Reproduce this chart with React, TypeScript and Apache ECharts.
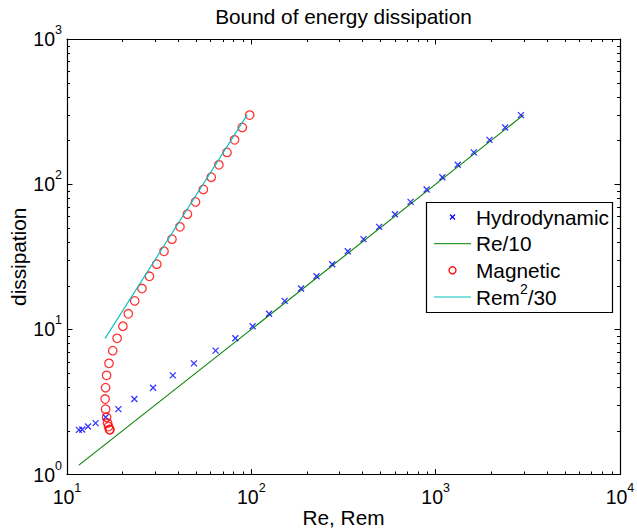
import React, { useEffect, useRef } from 'react';
import * as echarts from 'echarts';

// ---- data ----
const hydroRe = [11.6, 12.1, 13.0, 14.3, 16.2, 19.0, 23.2, 29.3, 37.5, 48.8, 64.0, 81.9, 101.6, 124.8, 151.6, 186, 225.6, 274.6, 333.6, 406, 494, 601, 731, 893, 1087, 1318, 1610, 1959, 2382, 2900];
const hydroDiss = [2.03, 2.04, 2.14, 2.26, 2.48, 2.82, 3.31, 3.96, 4.82, 5.83, 7.13, 8.67, 10.5, 12.8, 15.7, 19.1, 23.2, 28.1, 34.5, 41.8, 50.8, 62.1, 75.5, 91.9, 111.7, 135.9, 165.5, 202, 246, 299];
const magRem = [17.1, 17.0, 16.8, 16.6, 16.4, 16.2, 16.1, 16.2, 16.4, 16.9, 17.7, 18.7, 20.1, 21.5, 23.3, 25.5, 28.0, 30.7, 33.6, 37.1, 41.0, 45.0, 49.8, 54.9, 60.6, 66.7, 73.8, 81.1, 89.3, 98.0];
const magDiss = [2.03, 2.04, 2.14, 2.26, 2.48, 2.82, 3.31, 3.96, 4.82, 5.83, 7.13, 8.67, 10.5, 12.8, 15.7, 19.1, 23.2, 28.1, 34.5, 41.8, 50.8, 62.1, 75.5, 91.9, 111.7, 135.9, 165.5, 202, 246, 299];
const reLineX = [11.6, 3000];
const reLineY = [1.16, 300];
const remLineX = [16.1, 94.9];
const remLineY = [8.67, 300];
const xMinorTicks = [20, 30, 40, 50, 60, 70, 80, 90, 200, 300, 400, 500, 600, 700, 800, 900, 2000, 3000, 4000, 5000, 6000, 7000, 8000, 9000];
const yMinorTicks = [2, 3, 4, 5, 6, 7, 8, 9, 20, 30, 40, 50, 60, 70, 80, 90, 200, 300, 400, 500, 600, 700, 800, 900];
const seriesNames = ['Hydrodynamic', 'Re/10', 'Magnetic', 'Rem^2/30'];
const titleText = 'Bound of energy dissipation';
const xName = 'Re, Rem';
const yName = 'dissipation';

const FONT = '"Liberation Sans", Arial, Helvetica, sans-serif';
const FS = 20.8;
const TICK_FS = 19.5;
const MAJOR = 5.5;
const MINOR = 3;
const BLUE = '#0000ff';
const GREEN = '#008000';
const RED = '#ff0000';
const CYAN = '#00bfbf';
const X_PATH = 'path://M0,0L10,10M10,0L0,10';
const MARK_W = 1.3;

const zip = (a: number[], b: number[]) => a.map((v, i) => [v, b[i]]);

const tickRich = {
  b: { fontSize: TICK_FS, fontFamily: FONT, color: '#000', lineHeight: 24 },
  s: { fontSize: 12.5, fontFamily: FONT, color: '#000', lineHeight: 24, padding: [0, 0, 18, 0] },
};
const tickFmt = (v: number) => `{b|10}{s|${Math.round(Math.log10(v))}}`;

const legendRich = {
  b: { fontSize: FS, fontFamily: FONT, color: '#000', lineHeight: 22 },
  s: { fontSize: 14, fontFamily: FONT, color: '#000', lineHeight: 22, padding: [0, 0, 16, 0] },
};

function legendGraphic() {
  const x0 = 426, y0 = 202, w = 186, h = 110;
  const rows = [217, 243.7, 270.3, 297];
  const sx1 = 434, sx2 = 471, cx = 452.5, tx = 476;
  const children: any[] = [
    { type: 'rect', shape: { x: x0 + 0.5, y: y0 + 0.5, width: w, height: h }, style: { fill: '#fff', stroke: '#000', lineWidth: 1.2 } },
    // Hydrodynamic marker
    { type: 'line', shape: { x1: cx - 2.5, y1: rows[0] - 2.5, x2: cx + 2.5, y2: rows[0] + 2.5 }, style: { stroke: BLUE, lineWidth: MARK_W } },
    { type: 'line', shape: { x1: cx + 2.5, y1: rows[0] - 2.5, x2: cx - 2.5, y2: rows[0] + 2.5 }, style: { stroke: BLUE, lineWidth: MARK_W } },
    // Re/10 line
    { type: 'line', shape: { x1: sx1, y1: rows[1], x2: sx2, y2: rows[1] }, style: { stroke: GREEN, lineWidth: 1 } },
    // Magnetic marker
    { type: 'circle', shape: { cx, cy: rows[2], r: 3.5 }, style: { fill: 'none', stroke: RED, lineWidth: MARK_W } },
    // Rem^2/30 line
    { type: 'line', shape: { x1: sx1, y1: rows[3], x2: sx2, y2: rows[3] }, style: { stroke: CYAN, lineWidth: 1 } },
  ];
  const labels = [
    `{b|${seriesNames[0]}}`,
    `{b|${seriesNames[1]}}`,
    `{b|${seriesNames[2]}}`,
    `{b|Rem}{s|2}{b|/30}`,
  ];
  labels.forEach((t, i) => {
    children.push({
      type: 'text', x: tx, y: rows[i],
      style: { text: t, rich: legendRich, verticalAlign: 'middle', align: 'left', fill: '#000', fontSize: FS, fontFamily: FONT },
    });
  });
  return { type: 'group', z: 100, children };
}

function minorTickSeries(vals: number[], dir: 'x' | 'y') {
  return {
    type: 'custom',
    silent: true,
    clip: false,
    z: 10,
    data: vals.map((v) => (dir === 'x' ? [v, 10] : [100, v])),
    renderItem: (params: any, api: any) => {
      const cs = params.coordSys;
      const style = { stroke: '#000', lineWidth: 1 };
      if (dir === 'x') {
        const x = Math.round(api.coord([api.value(0), 10])[0]) + 0.5;
        const yb = cs.y + cs.height, yt = cs.y;
        return {
          type: 'group', children: [
            { type: 'line', shape: { x1: x, y1: yb, x2: x, y2: yb - MINOR }, style },
            { type: 'line', shape: { x1: x, y1: yt, x2: x, y2: yt + MINOR }, style },
          ],
        };
      }
      const y = Math.round(api.coord([100, api.value(1)])[1]) + 0.5;
      const xl = cs.x, xr = cs.x + cs.width;
      return {
        type: 'group', children: [
          { type: 'line', shape: { x1: xl, y1: y, x2: xl + MINOR, y2: y }, style },
          { type: 'line', shape: { x1: xr, y1: y, x2: xr - MINOR, y2: y }, style },
        ],
      };
    },
  };
}

const axisCommon = {
  type: 'log' as const,
  logBase: 10,
  splitLine: { show: false },
  minorTick: { show: false },
  axisLine: { show: true, lineStyle: { color: '#000', width: 1.2 } },
  axisTick: { show: true, inside: true, length: MAJOR, lineStyle: { color: '#000', width: 1 } },
};

export default function App() {
  const ref = useRef<HTMLDivElement>(null);
  useEffect(() => {
    if (!ref.current) return;
    const chart = echarts.init(ref.current, null, { renderer: 'svg' });
    const option: any = {
      animation: false,
      backgroundColor: '#fff',
      title: {
        text: titleText,
        left: 343.5,
        top: 4,
        padding: 0,
        textAlign: 'center',
        textStyle: { fontSize: FS, fontWeight: 'normal', fontFamily: FONT, color: '#000', lineHeight: 24 },
      },
      grid: { left: 67, right: 17, top: 39, bottom: 54.5, show: false, containLabel: false, outerBoundsMode: 'none' },
      xAxis: [
        {
          ...axisCommon, position: 'bottom', min: 10, max: 10000,
          name: xName, nameLocation: 'middle', nameGap: 31, nameMoveOverlap: false,
          nameTextStyle: { fontSize: FS, fontFamily: FONT, color: '#000', lineHeight: 24 },
          axisLabel: { show: true, margin: 10, formatter: tickFmt, rich: tickRich, color: '#000' },
        },
        {
          ...axisCommon, position: 'top', min: 10, max: 10000,
          axisLabel: { show: false },
        },
      ],
      yAxis: [
        {
          ...axisCommon, position: 'left', min: 1, max: 1000,
          name: yName, nameLocation: 'middle', nameGap: 37, nameMoveOverlap: false,
          nameTextStyle: { fontSize: FS, fontFamily: FONT, color: '#000', lineHeight: 24 },
          axisLabel: { show: true, margin: 5, formatter: tickFmt, rich: tickRich, color: '#000' },
        },
        {
          ...axisCommon, position: 'right', min: 1, max: 1000,
          axisLabel: { show: false },
        },
      ],
      series: [
        {
          name: seriesNames[0], type: 'scatter', silent: true,
          data: zip(hydroRe, hydroDiss),
          symbol: X_PATH, symbolSize: 6,
          itemStyle: { color: BLUE, borderColor: BLUE, borderWidth: MARK_W },
          z: 3,
        },
        {
          name: seriesNames[1], type: 'line', silent: true,
          data: zip(reLineX, reLineY),
          symbol: 'none', showSymbol: false,
          lineStyle: { color: GREEN, width: 1.1 },
          z: 2,
        },
        {
          name: seriesNames[2], type: 'scatter', silent: true,
          data: zip(magRem, magDiss),
          symbol: 'circle', symbolSize: 8.5,
          itemStyle: { color: 'rgba(0,0,0,0)', borderColor: RED, borderWidth: MARK_W },
          z: 3,
        },
        {
          name: seriesNames[3], type: 'line', silent: true,
          data: zip(remLineX, remLineY),
          symbol: 'none', showSymbol: false,
          lineStyle: { color: CYAN, width: 1.1 },
          z: 4,
        },
        minorTickSeries(xMinorTicks, 'x'),
        minorTickSeries(yMinorTicks, 'y'),
      ],
      graphic: [legendGraphic()],
    };
    chart.setOption(option);
    return () => chart.dispose();
  }, []);
  return <div ref={ref} style={{ position: 'fixed', left: 0, top: 0, width: 637, height: 529, background: '#fff' }} />;
}
